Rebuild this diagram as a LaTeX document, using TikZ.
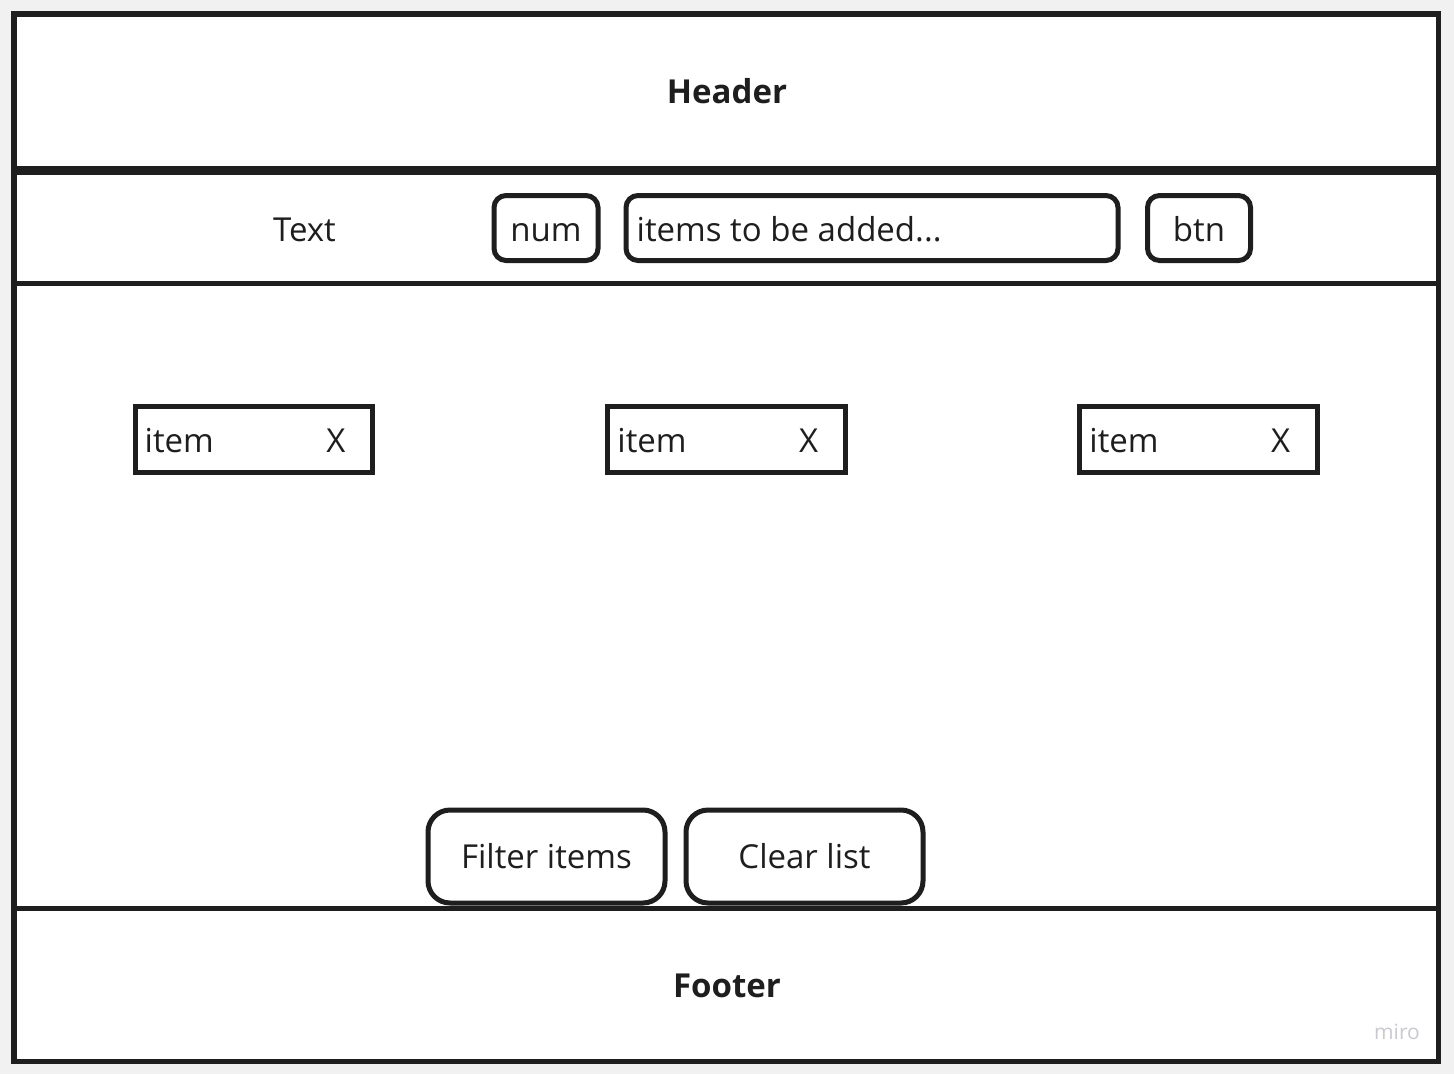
\documentclass[tikz,border=0pt]{standalone}
\usepackage{fontspec}
\setmainfont{Open Sans}
\usepackage{tikz}
\usetikzlibrary{positioning}
\definecolor{ink}{HTML}{1E1E1E}
\definecolor{canvas}{HTML}{F1F1F1}
\definecolor{mark}{HTML}{C9C9D1}
\tikzset{%
    frame/.style={draw=ink,line width=5.5pt,inner sep=0pt,minimum width=1424.5pt},
    field/.style={draw=ink,line width=5pt,rounded corners=12pt,inner sep=0pt,minimum height=65pt},
    itembox/.style={draw=ink,line width=5pt,inner sep=0pt,minimum width=237.5pt,minimum height=66pt},
    btnbox/.style={draw=ink,line width=5pt,rounded corners=22pt,inner sep=0pt,minimum width=237pt,minimum height=93pt},
    lbl/.style={font=\fontsize{33}{38}\selectfont,text=ink,inner sep=0pt,text height=24pt,text depth=0pt}
}

\begin{document}
\begin{tikzpicture}[x=1pt,y=-1pt]
    \fill[canvas] (0,0) rectangle (1454,1074);
    \useasboundingbox (0,0) rectangle (1454,1074);
    \fill[white] (14,14) rectangle (1438.5,1061.5);

    % page sections
    \node[frame,minimum height=154.5pt] (header) at (726.25,91.25) {};
    \node[frame,minimum height=111pt] (toolbar) at (726.25,228) {};
    \node[frame,minimum height=625pt] (list) at (726.25,596) {};
    \node[frame,minimum height=153pt] (footer) at (726.25,985) {};
    \node[lbl,font=\fontsize{33}{38}\selectfont\bfseries] at (727,91) {Header};
    \node[lbl,font=\fontsize{33}{38}\selectfont\bfseries] at (727,985) {Footer};

    % input row
    \node[lbl] (text) at (304.5,229) {Text};
    \node[field,minimum width=104pt] (num) at (546,228) {};
    \node[lbl] at ([yshift=-1pt]num.center) {num};
    \node[field,minimum width=492pt] (entry) at (872,228) {};
    \node[lbl,anchor=west] at ([xshift=13pt,yshift=-1pt]entry.west) {items to be added...};
    \node[field,minimum width=103pt] (btn) at (1199,228) {};
    \node[lbl] at ([yshift=-1pt]btn.center) {btn};

    % list of items
    \foreach \x/\n in {253.75/first,726.5/second,1198.5/third}{
        \node[itembox] (\n) at (\x,439.5) {};
        \node[lbl,anchor=west] at ([xshift=12pt,yshift=-0.5pt]\n.west) {item};
        \node[lbl] at ([xshift=-39pt,yshift=-0.5pt]\n.east) {X};
    }

    % buttons
    \node[btnbox,fill=white] (filter) at (546.5,856.5) {};
    \node[lbl] at (filter) {Filter items};
    \node[btnbox,fill=white] (clear) at (804.5,856.5) {};
    \node[lbl] at (clear) {Clear list};

    \node[font=\fontsize{21}{25}\selectfont,text=mark] (miro) at (1397,1032) {miro};
\end{tikzpicture}
\end{document}
